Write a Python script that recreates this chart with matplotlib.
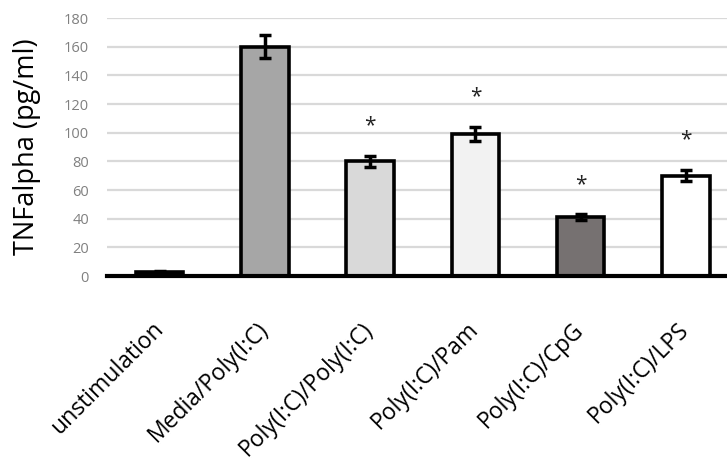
import matplotlib.pyplot as plt
import matplotlib.transforms as mtransforms

# data
categories = ['unstimulation', 'Media/Poly(I:C)', 'Poly(I:C)/Poly(I:C)',
              'Poly(I:C)/Pam', 'Poly(I:C)/CpG', 'Poly(I:C)/LPS']
values = [2.5, 160, 80, 99, 41, 70]
errors = [1, 8, 4, 5, 2, 4]
significant = [False, False, True, True, True, True]
bar_colors = ['#000000', '#a6a6a6', '#d9d9d9', '#f2f2f2', '#767171', '#ffffff']

plt.rcParams['font.family'] = ['Open Sans', 'DejaVu Sans']

fig = plt.figure(figsize=(7.27, 4.66), dpi=100)
ax = fig.add_axes([107 / 727, 190 / 466, 620 / 727, 258 / 466])

x = list(range(len(categories)))
ax.bar(x, values, width=0.45, color=bar_colors, edgecolor='black',
       linewidth=2.6, zorder=3)
ax.errorbar(x, values, yerr=errors, fmt='none', ecolor='black',
            elinewidth=2.5, capsize=4, capthick=2.5, zorder=4)

# significance marks
for i, (v, e, s) in enumerate(zip(values, errors, significant)):
    if s:
        ax.text(i, v + e + 21, '*', ha='center', va='center',
                fontsize=15, color='#222222', zorder=5)

ax.set_xlim(-0.5, 5.39)
ax.set_ylim(0, 180)
ax.set_yticks(range(0, 181, 20))
ax.yaxis.grid(True, color='#d9d9d9', linewidth=1.6, zorder=0)
ax.set_axisbelow(True)

for side in ['top', 'right', 'left']:
    ax.spines[side].set_visible(False)
ax.spines['bottom'].set_linewidth(3)
ax.spines['bottom'].set_zorder(6)

ax.tick_params(axis='y', length=0, labelsize=10.5, labelcolor='#808080', pad=13)
ax.tick_params(axis='x', length=0, pad=30)
ax.set_xticks(x)
ax.set_xticklabels(categories, rotation=45, ha='right', fontsize=16.5)

# nudge rotated labels a little to the right
shift = mtransforms.ScaledTranslation(6 / 72, 0, fig.dpi_scale_trans)
for lab in ax.get_xticklabels():
    lab.set_transform(lab.get_transform() + shift)

ax.set_ylabel('TNFalpha (pg/ml)', fontsize=19.5)
ax.yaxis.set_label_coords(-0.106, 0.5)

fig.savefig('out.png', dpi=100)
